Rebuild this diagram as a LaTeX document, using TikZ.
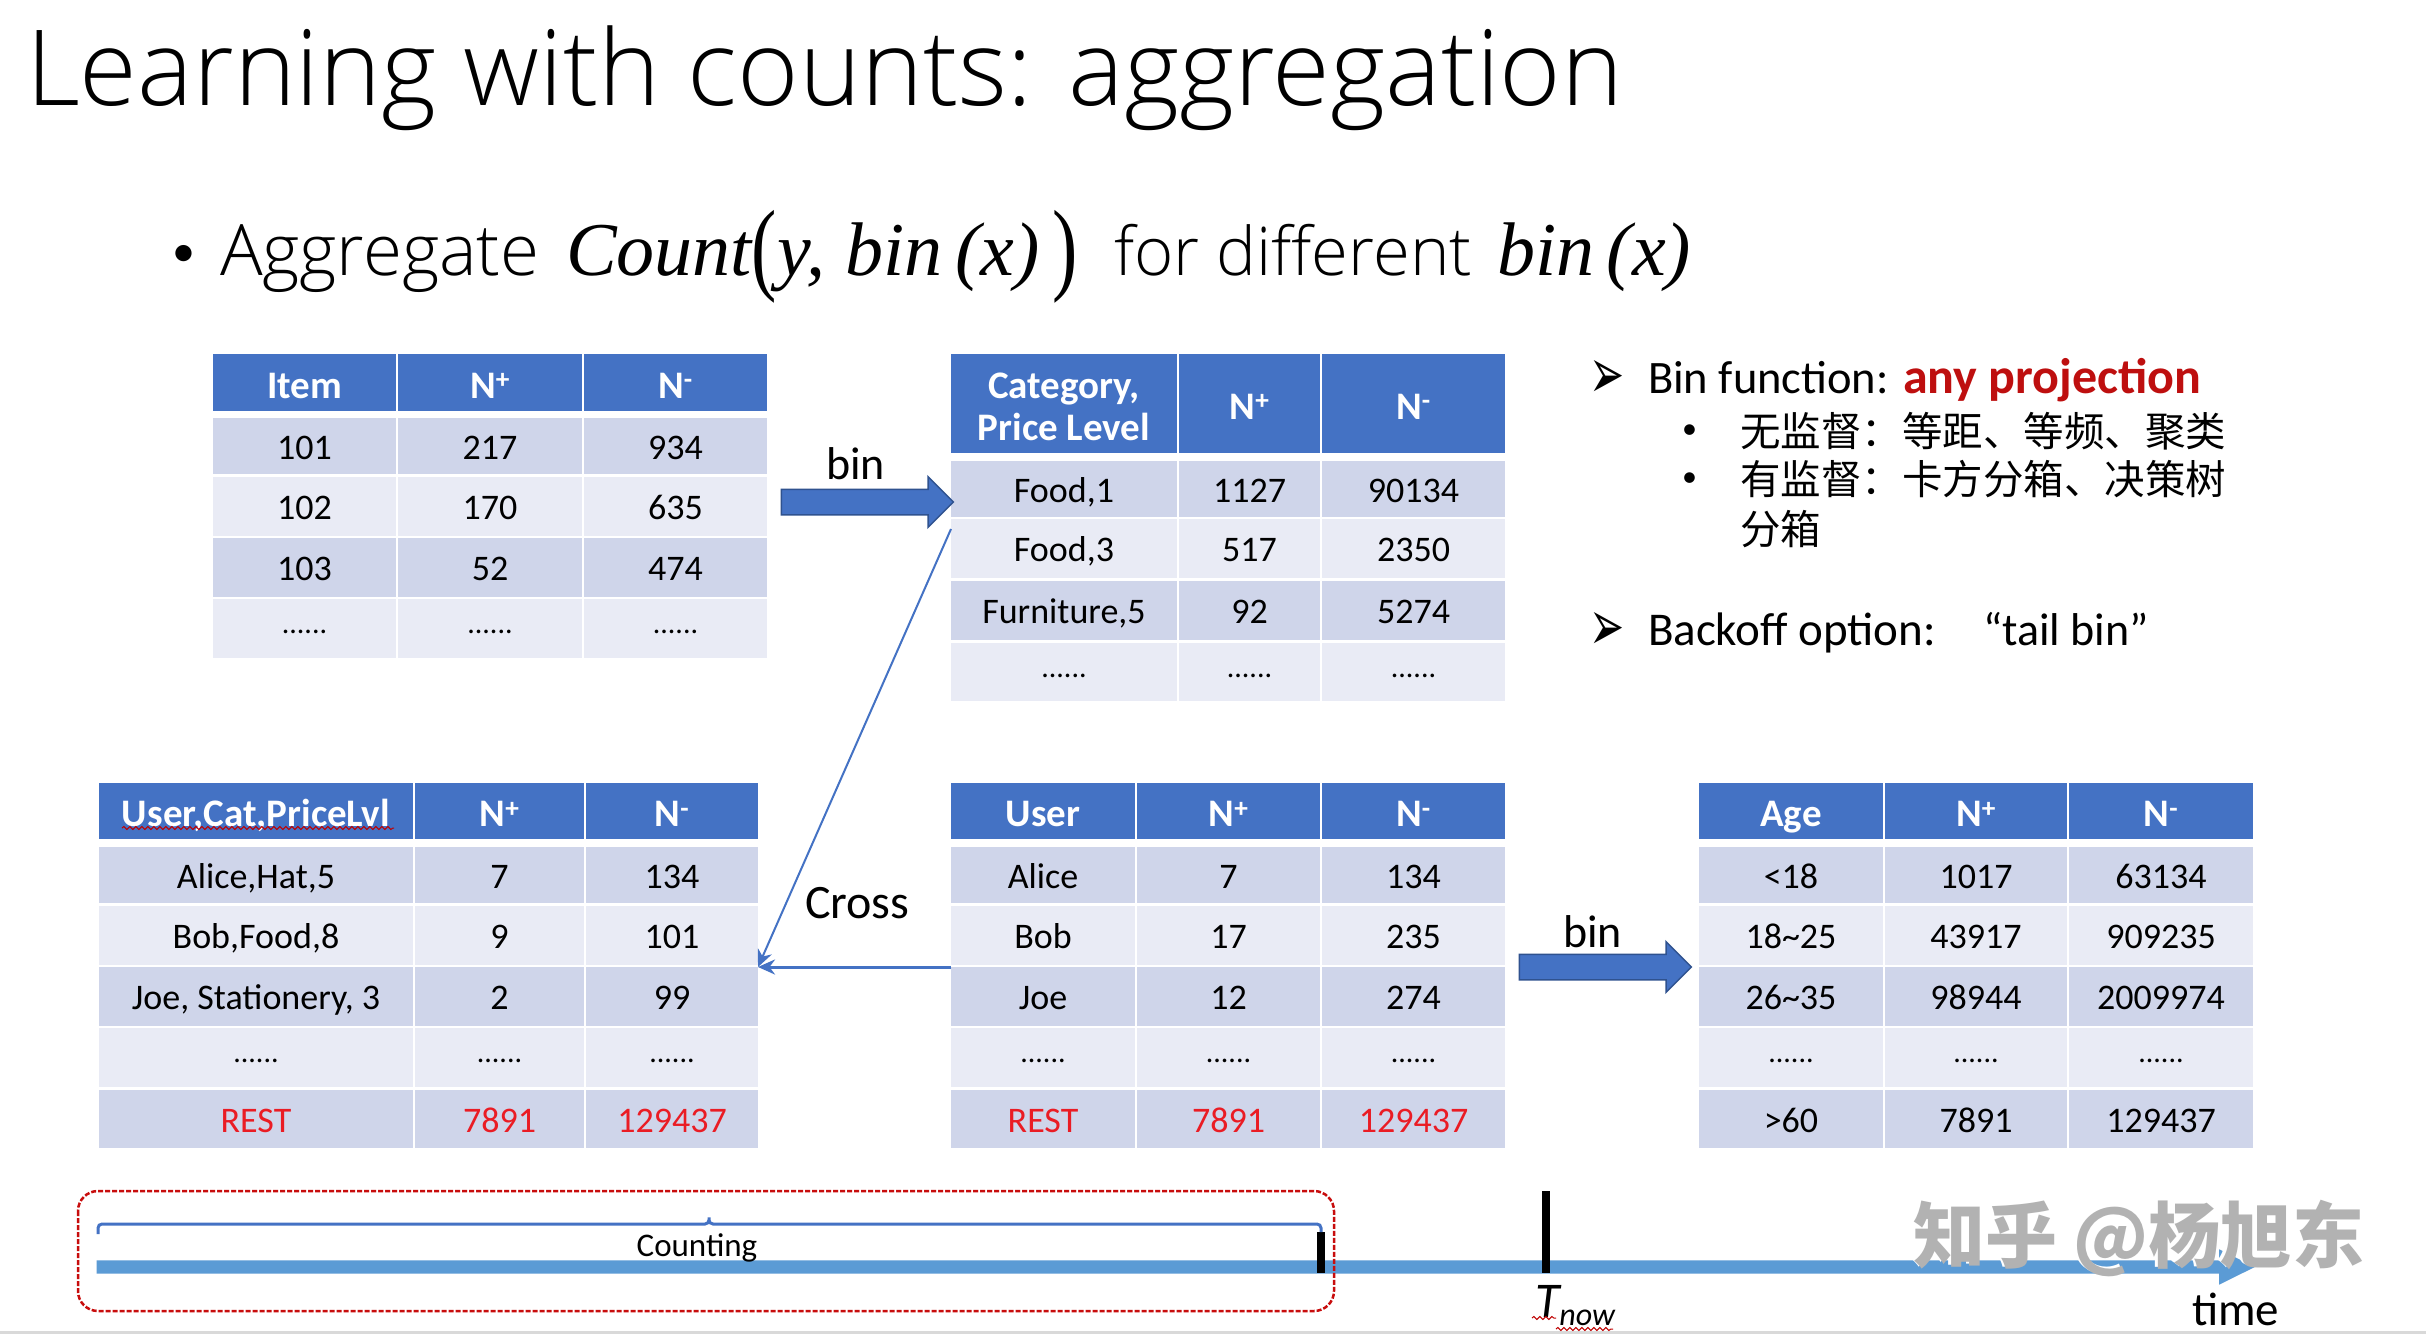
\documentclass[tikz,border=0pt]{standalone}
\usepackage{fontspec}
\usepackage{xcolor}
\setmainfont{Carlito}
\newfontfamily\titlefont{Open Sans Light}
\newfontfamily\mathitfont{Liberation Serif}
\newfontfamily\cjk{Noto Sans CJK SC}
\newfontfamily\symbolfont{DejaVu Sans}
\usetikzlibrary{positioning,arrows.meta,shapes.arrows,decorations.pathmorphing}
\tikzset{>={Stealth[length=17pt,width=15pt]}}
\definecolor{headblue}{HTML}{4472C4}
\definecolor{darkblue}{HTML}{2F528F}
\definecolor{barblue}{HTML}{5B9BD5}
\definecolor{rowdark}{HTML}{CFD5EA}
\definecolor{rowlight}{HTML}{E9EBF5}
\definecolor{restred}{HTML}{EA1C24}
\definecolor{deepred}{HTML}{BE0F0F}
\newcommand{\fs}[1]{\fontsize{#1}{#1}\selectfont}
\newcommand{\Npos}{N\textsuperscript{+}}
\newcommand{\Nneg}{N\textsuperscript{-}}
\newcommand{\dotcell}{\raisebox{8pt}{\fs{30}......}}
\newcommand{\bigparen}[1]{\raisebox{-6pt}{\scalebox{1}[1.35]{\upshape #1}}}
\tikzset{
  x=1pt,y=-1pt,
  cellbase/.style={inner sep=0pt,outer sep=0pt,text height=26pt,text depth=0pt,font=\fs{36}},
  head/.style={cellbase,fill=headblue,text=white,text height=31pt,font=\fs{39}\bfseries},
  rowa/.style={cellbase,fill=rowdark},
  rowb/.style={cellbase,fill=rowlight},
  rest/.style={cellbase,fill=rowdark,text=restred},
  plaintext/.style={anchor=base west,inner sep=0pt,outer sep=0pt},
  binarrow/.style={single arrow,fill=headblue,draw=darkblue,line width=1.5pt,inner sep=0pt,inner ysep=12pt,
    single arrow head extend=12.5pt,single arrow tip angle=90,minimum height=172pt},
  crossline/.style={->,headblue},
  squiggle/.style={red!75!black,line width=1pt,decorate,decoration={snake,amplitude=1.5pt,segment length=6pt}}
}
\newcommand{\counttable}[6]{%
  \foreach \ya/\yb/\rowstyle/\ca/\cb/\cc [count=\r] in {#6} {
    \node[\rowstyle,minimum width={(#3-#2-1)*1pt},minimum height={(\yb-\ya)*1pt}] (#1-\r-1) at ({(#2+#3-1)/2},{(\ya+\yb)/2}) {\ca};
    \node[\rowstyle,minimum width={(#4-#3-2)*1pt},minimum height={(\yb-\ya)*1pt}] (#1-\r-2) at ({(#3+#4)/2},{(\ya+\yb)/2}) {\cb};
    \node[\rowstyle,minimum width={(#5-#4-1)*1pt},minimum height={(\yb-\ya)*1pt}] (#1-\r-3) at ({(#4+1+#5)/2},{(\ya+\yb)/2}) {\cc};
  }
}
\begin{document}
\begin{tikzpicture}
\useasboundingbox (0,0) rectangle (2426,1334);
\fill[white] (0,0) rectangle (2426,1334);
\fill[black!15] (0,1331) rectangle (2426,1334);

\node[plaintext,font=\titlefont\fs{105}] (title) at (26,105) {Learning with counts: aggregation};
\node[plaintext,font=\fs{46}] (bullet) at (172,266) {•};
\node[plaintext,font=\titlefont\fs{71}] (aggregate) at (220,275) {Aggregate};
\node[plaintext,font=\mathitfont\itshape\fs{76}] (countexpr) at (566,275) {Count\bigparen{(}y,\kern20pt bin\,(x)\,\bigparen{)}};
\node[plaintext,font=\titlefont\fs{67}] (different) at (1114,275) {for different};
\node[plaintext,font=\mathitfont\itshape\fs{76}] (binexpr) at (1497,275) {bin\,(x)};

\counttable{item}{213}{397}{583}{767}{
  354/411/head/Item/\Npos/\Nneg,
  418/474/rowa/101/217/934,
  477/536/rowb/102/170/635,
  538/597/rowa/103/52/474,
  599/658/rowb/\dotcell/\dotcell/\dotcell}
\counttable{cat}{951}{1178}{1321}{1505}{
  354/453/head//\Npos/\Nneg,
  461/517/rowa/{Food,1}/1127/90134,
  519/578/rowb/{Food,3}/517/2350,
  581/640/rowa/{Furniture,5}/92/5274,
  643/701/rowb/\dotcell/\dotcell/\dotcell}
\node[font=\fs{39}\bfseries,text=white,align=center,inner sep=0pt,yshift=-3pt] (catlabel) at (cat-1-1.center) {Category,\\[3pt]Price Level};
\counttable{cross}{99}{414}{585}{758}{
  783/839/head/{User,Cat,PriceLvl}/\Npos/\Nneg,
  847/903/rowa/{Alice,Hat,5}/7/134,
  906/965/rowb/{Bob,Food,8}/9/101,
  967/1026/rowa/{Joe, Stationery, 3}/2/99,
  1028/1087/rowb/\dotcell/\dotcell/\dotcell,
  1090/1148/rest/REST/7891/129437}
\counttable{user}{951}{1136}{1321}{1505}{
  783/839/head/User/\Npos/\Nneg,
  847/903/rowa/Alice/7/134,
  906/965/rowb/Bob/17/235,
  967/1026/rowa/Joe/12/274,
  1028/1087/rowb/\dotcell/\dotcell/\dotcell,
  1090/1148/rest/REST/7891/129437}
\counttable{age}{1699}{1884}{2068}{2253}{
  783/839/head/Age/\Npos/\Nneg,
  847/903/rowa/<18/1017/63134,
  906/965/rowb/18\textasciitilde 25/43917/909235,
  967/1026/rowa/26\textasciitilde 35/98944/2009974,
  1028/1087/rowb/\dotcell/\dotcell/\dotcell,
  1090/1148/rowa/>60/7891/129437}
\draw[squiggle] (122,828) -- (394,828);

\node[binarrow] (binitem) at (861,502) {};
\node[binarrow] (binuser) at (1599,967) {};
\node[plaintext,font=\fs{46}] (binitemlabel) at (826,479) {bin};
\node[plaintext,font=\fs{46}] (binuserlabel) at (1563,947) {bin};
\node[plaintext,font=\fs{48}] (crosslabel) at (805,918) {Cross};

\coordinate (crossstart) at (951,529);
\draw[crossline,line width=2pt] (crossstart) -- (cross-4-3.north east);
\draw[crossline,line width=3pt] (user-4-1.north west) -- (cross-4-3.north east);

\node[plaintext,font=\symbolfont\fs{42}] (arrowbin) at (1589,398) {\scalebox{1}[1.7]{➢}};
\node[plaintext,font=\fs{46.5}] (binfunction) at (1648,393) {Bin function:};
\node[plaintext,font=\fs{50}\bfseries,text=deepred] (anyproj) at (1903,393) {any projection};
\node[plaintext,font=\fs{30}] (dotone) at (1682,438) {•};
\node[plaintext,font=\cjk\fs{40.5}] (unsup) at (1740,446) {无监督：等距、等频、聚类};
\node[plaintext,font=\fs{30}] (dottwo) at (1682,486) {•};
\node[plaintext,font=\cjk\fs{40.5}] (sup) at (1740,494) {有监督：卡方分箱、决策树};
\node[plaintext,font=\cjk\fs{40.5}] (supb) at (1740,544) {分箱};
\node[plaintext,font=\symbolfont\fs{42}] (arrowback) at (1589,650) {\scalebox{1}[1.7]{➢}};
\node[plaintext,font=\fs{47}] (backoff) at (1648,645) {Backoff option:};
\node[plaintext,font=\fs{46}] (tailbin) at (1983,645) {“tail bin”};

\node[single arrow,fill=barblue,inner sep=0pt,inner ysep=6.5pt,single arrow head extend=11pt,
  single arrow tip angle=53,minimum height=2158pt] (timeline) at (1169,1267) {};
\draw[line width=8pt] (1321,1232) -- (1321,1273);
\draw[line width=8pt] (1546,1191) -- (1546,1273);
\draw[headblue,line width=3pt,rounded corners=4pt] (98,1234) -- (98,1224) -- (709,1224) -- (709,1215) -- (709,1224) -- (1321,1224) -- (1321,1232);
\draw[deepred!85!red,line width=2.5pt,dash pattern=on 5pt off 2pt,rounded corners=20pt] (78,1191) rectangle (1334,1311);
\node[anchor=base,inner sep=0pt,font=\fs{33}] (counting) at (697,1256) {Counting};

\node[plaintext,font=\fs{50}\itshape] (tnow) at (1535,1317) {T\raisebox{-8pt}{\fs{32}now}};
\draw[squiggle] (1532,1318) -- (1556,1318);
\draw[squiggle] (1556,1329) -- (1613,1329);
\node[plaintext,font=\fs{47}] (timelabel) at (2192,1325) {time};

\node[plaintext,font=\cjk\bfseries\fs{72},text=white] (markshadow) at (1910,1260) {知乎 @杨旭东};
\node[plaintext,font=\cjk\bfseries\fs{72},text=black!30] (mark) at (1913,1262) {知乎 @杨旭东};
\end{tikzpicture}
\end{document}
